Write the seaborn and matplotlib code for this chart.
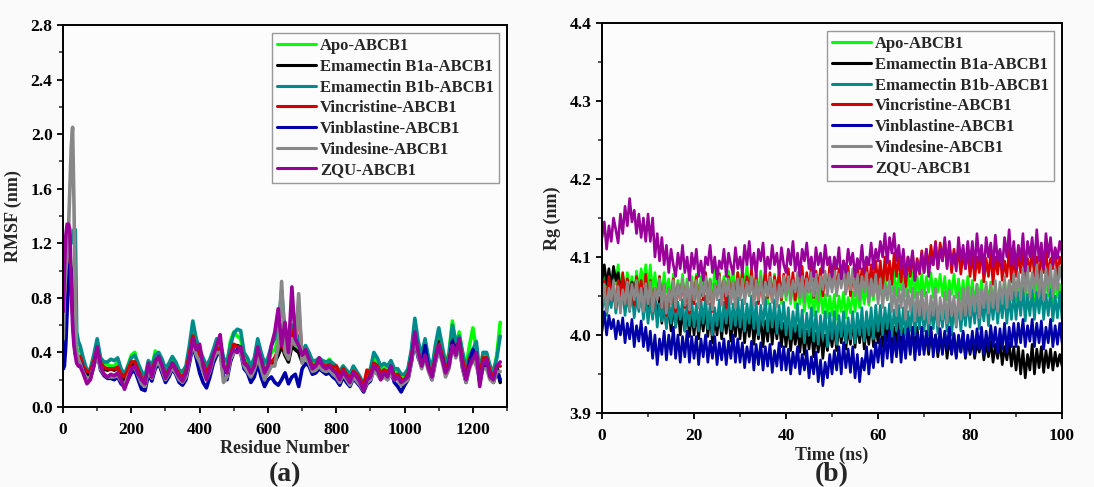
import matplotlib
matplotlib.use("Agg")
import matplotlib.pyplot as plt
from matplotlib.ticker import MultipleLocator, FormatStrFormatter
import seaborn as sns

# ---------------- dados RMSF (residuos) ----------------
residue = [1, 4, 8, 12, 16, 20, 24, 28, 32, 36, 40, 45] + list(range(50, 1290, 10))

apo_rmsf = [0.65, 0.75, 0.90, 1.00, 1.10, 1.15, 1.00, 0.80, 0.60, 0.45, 0.40, 0.42,
            0.42, 0.32, 0.26, 0.27, 0.35, 0.45, 0.34, 0.32, 0.31, 0.30,
            0.30, 0.33, 0.25, 0.20, 0.30, 0.38, 0.40, 0.30, 0.22, 0.20,
            0.33, 0.28, 0.41, 0.38, 0.33, 0.25, 0.30, 0.36, 0.31, 0.25,
            0.24, 0.28, 0.42, 0.58, 0.48, 0.40, 0.33, 0.27, 0.32, 0.40,
            0.47, 0.45, 0.33, 0.30, 0.48, 0.55, 0.52, 0.50, 0.37, 0.33,
            0.27, 0.33, 0.45, 0.36, 0.28, 0.32, 0.40, 0.42, 0.50, 0.60,
            0.45, 0.40, 0.50, 0.48, 0.42, 0.36, 0.42, 0.38, 0.32, 0.33,
            0.35, 0.33, 0.32, 0.35, 0.30, 0.28, 0.25, 0.30, 0.25, 0.22,
            0.28, 0.25, 0.20, 0.15, 0.22, 0.26, 0.36, 0.33, 0.28, 0.30,
            0.28, 0.32, 0.26, 0.26, 0.22, 0.22, 0.27, 0.40, 0.60, 0.45,
            0.35, 0.46, 0.33, 0.26, 0.42, 0.55, 0.42, 0.30, 0.40, 0.63,
            0.45, 0.55, 0.38, 0.30, 0.45, 0.58, 0.42, 0.24, 0.40, 0.38,
            0.30, 0.25, 0.38, 0.62]

b1a_rmsf = [0.55, 0.60, 0.80, 1.00, 1.10, 1.05, 0.90, 0.70, 0.50, 0.40, 0.35, 0.35,
            0.36, 0.28, 0.23, 0.24, 0.32, 0.42, 0.31, 0.28, 0.27, 0.28,
            0.27, 0.29, 0.23, 0.18, 0.25, 0.31, 0.33, 0.27, 0.21, 0.17,
            0.29, 0.25, 0.33, 0.35, 0.30, 0.23, 0.27, 0.32, 0.28, 0.23,
            0.21, 0.25, 0.38, 0.50, 0.42, 0.38, 0.29, 0.21, 0.28, 0.36,
            0.42, 0.42, 0.28, 0.25, 0.38, 0.45, 0.45, 0.44, 0.33, 0.29,
            0.24, 0.29, 0.40, 0.32, 0.24, 0.28, 0.32, 0.33, 0.38, 0.45,
            0.38, 0.33, 0.45, 0.42, 0.40, 0.33, 0.38, 0.34, 0.29, 0.30,
            0.32, 0.30, 0.29, 0.30, 0.27, 0.25, 0.21, 0.27, 0.22, 0.19,
            0.25, 0.22, 0.18, 0.13, 0.20, 0.23, 0.32, 0.30, 0.24, 0.27,
            0.25, 0.29, 0.23, 0.23, 0.19, 0.19, 0.23, 0.36, 0.55, 0.40,
            0.31, 0.40, 0.30, 0.23, 0.37, 0.48, 0.38, 0.26, 0.33, 0.50,
            0.40, 0.50, 0.33, 0.22, 0.35, 0.40, 0.38, 0.20, 0.35, 0.34,
            0.25, 0.21, 0.30, 0.18]

b1b_rmsf = [0.50, 0.70, 0.90, 1.00, 1.10, 1.20, 1.20, 1.25, 1.30, 1.30, 0.55, 0.48,
            0.45, 0.35, 0.27, 0.28, 0.38, 0.50, 0.36, 0.33, 0.33, 0.35,
            0.34, 0.36, 0.28, 0.24, 0.30, 0.36, 0.38, 0.32, 0.26, 0.22,
            0.34, 0.30, 0.38, 0.40, 0.35, 0.28, 0.32, 0.37, 0.33, 0.27,
            0.26, 0.30, 0.45, 0.63, 0.50, 0.42, 0.36, 0.30, 0.35, 0.42,
            0.50, 0.48, 0.36, 0.33, 0.45, 0.54, 0.57, 0.56, 0.40, 0.36,
            0.30, 0.36, 0.50, 0.40, 0.32, 0.36, 0.45, 0.50, 0.60, 0.85,
            0.55, 0.45, 0.60, 0.55, 0.50, 0.40, 0.45, 0.40, 0.34, 0.34,
            0.36, 0.34, 0.33, 0.34, 0.32, 0.30, 0.26, 0.30, 0.27, 0.24,
            0.30, 0.26, 0.22, 0.16, 0.24, 0.28, 0.40, 0.36, 0.30, 0.32,
            0.30, 0.34, 0.28, 0.28, 0.24, 0.24, 0.28, 0.42, 0.65, 0.48,
            0.38, 0.50, 0.36, 0.28, 0.45, 0.58, 0.45, 0.32, 0.38, 0.60,
            0.48, 0.52, 0.40, 0.28, 0.38, 0.42, 0.48, 0.25, 0.40, 0.40,
            0.30, 0.26, 0.36, 0.52]

vincristine_rmsf = [0.60, 0.65, 1.00, 1.20, 1.25, 1.10, 0.90, 0.70, 0.50, 0.40, 0.35, 0.35,
                    0.37, 0.29, 0.26, 0.26, 0.33, 0.42, 0.32, 0.29, 0.28, 0.28,
                    0.28, 0.29, 0.24, 0.22, 0.27, 0.33, 0.33, 0.27, 0.21, 0.18,
                    0.30, 0.26, 0.34, 0.36, 0.30, 0.23, 0.27, 0.32, 0.28, 0.24,
                    0.22, 0.26, 0.38, 0.52, 0.42, 0.38, 0.32, 0.25, 0.30, 0.37,
                    0.43, 0.43, 0.30, 0.26, 0.38, 0.46, 0.44, 0.44, 0.33, 0.30,
                    0.25, 0.30, 0.40, 0.33, 0.26, 0.30, 0.33, 0.36, 0.42, 0.50,
                    0.40, 0.36, 0.50, 0.60, 0.72, 0.36, 0.40, 0.35, 0.30, 0.31,
                    0.33, 0.31, 0.30, 0.31, 0.29, 0.30, 0.23, 0.28, 0.24, 0.20,
                    0.26, 0.24, 0.20, 0.15, 0.27, 0.24, 0.32, 0.30, 0.25, 0.27,
                    0.25, 0.29, 0.23, 0.24, 0.20, 0.20, 0.24, 0.36, 0.52, 0.40,
                    0.32, 0.40, 0.30, 0.24, 0.36, 0.46, 0.38, 0.27, 0.33, 0.48,
                    0.40, 0.48, 0.34, 0.23, 0.35, 0.40, 0.38, 0.22, 0.36, 0.36,
                    0.26, 0.22, 0.30, 0.30]

vinblastine_rmsf = [0.28, 0.30, 0.45, 0.70, 0.90, 1.05, 1.00, 0.80, 0.60, 0.40, 0.35, 0.33,
                    0.33, 0.26, 0.20, 0.21, 0.30, 0.40, 0.27, 0.23, 0.21, 0.21,
                    0.20, 0.22, 0.17, 0.15, 0.20, 0.25, 0.27, 0.20, 0.13, 0.12,
                    0.24, 0.19, 0.28, 0.32, 0.25, 0.18, 0.22, 0.28, 0.24, 0.18,
                    0.16, 0.20, 0.32, 0.45, 0.36, 0.25, 0.18, 0.14, 0.22, 0.32,
                    0.38, 0.40, 0.22, 0.20, 0.33, 0.40, 0.42, 0.40, 0.28, 0.25,
                    0.18, 0.22, 0.32, 0.22, 0.15, 0.20, 0.22, 0.18, 0.16, 0.20,
                    0.25, 0.17, 0.22, 0.24, 0.15, 0.28, 0.32, 0.30, 0.24, 0.25,
                    0.28, 0.26, 0.24, 0.25, 0.22, 0.20, 0.16, 0.22, 0.18, 0.15,
                    0.21, 0.18, 0.15, 0.11, 0.17, 0.19, 0.28, 0.26, 0.21, 0.23,
                    0.20, 0.26, 0.18, 0.15, 0.11, 0.16, 0.20, 0.33, 0.48, 0.36,
                    0.30, 0.45, 0.28, 0.20, 0.33, 0.42, 0.36, 0.25, 0.30, 0.48,
                    0.38, 0.45, 0.28, 0.18, 0.32, 0.42, 0.36, 0.18, 0.30, 0.30,
                    0.22, 0.18, 0.26, 0.20]

vindesine_rmsf = [0.50, 0.80, 1.00, 1.10, 1.30, 1.60, 1.90, 2.05, 1.50, 0.80, 0.40, 0.35,
                  0.32, 0.25, 0.21, 0.22, 0.30, 0.40, 0.28, 0.24, 0.22, 0.22,
                  0.22, 0.23, 0.19, 0.16, 0.22, 0.28, 0.29, 0.23, 0.17, 0.15,
                  0.27, 0.21, 0.30, 0.33, 0.27, 0.20, 0.24, 0.29, 0.25, 0.20,
                  0.18, 0.22, 0.34, 0.47, 0.38, 0.33, 0.26, 0.20, 0.26, 0.35,
                  0.40, 0.40, 0.18, 0.22, 0.35, 0.40, 0.40, 0.40, 0.30, 0.26,
                  0.22, 0.27, 0.36, 0.28, 0.20, 0.25, 0.30, 0.30, 0.45, 0.92,
                  0.40, 0.35, 0.50, 0.45, 0.83, 0.32, 0.37, 0.32, 0.26, 0.27,
                  0.30, 0.27, 0.26, 0.27, 0.24, 0.22, 0.18, 0.24, 0.20, 0.16,
                  0.22, 0.19, 0.16, 0.12, 0.18, 0.20, 0.26, 0.24, 0.20, 0.22,
                  0.20, 0.25, 0.20, 0.20, 0.16, 0.18, 0.20, 0.33, 0.50, 0.37,
                  0.28, 0.36, 0.26, 0.20, 0.32, 0.42, 0.33, 0.22, 0.28, 0.45,
                  0.36, 0.45, 0.28, 0.18, 0.28, 0.35, 0.30, 0.22, 0.28, 0.28,
                  0.20, 0.18, 0.26, 0.26]

zqu_rmsf = [0.70, 1.00, 1.25, 1.34, 1.34, 1.30, 0.90, 0.60, 0.45, 0.38, 0.32, 0.30,
            0.30, 0.24, 0.17, 0.20, 0.30, 0.44, 0.30, 0.24, 0.22, 0.24,
            0.23, 0.25, 0.20, 0.13, 0.20, 0.28, 0.30, 0.24, 0.20, 0.17,
            0.32, 0.22, 0.33, 0.37, 0.30, 0.21, 0.26, 0.32, 0.27, 0.22,
            0.19, 0.25, 0.35, 0.50, 0.42, 0.46, 0.30, 0.20, 0.28, 0.38,
            0.45, 0.53, 0.30, 0.25, 0.38, 0.42, 0.40, 0.44, 0.32, 0.30,
            0.25, 0.30, 0.44, 0.35, 0.25, 0.30, 0.45, 0.55, 0.72, 0.45,
            0.62, 0.40, 0.88, 0.50, 0.45, 0.38, 0.42, 0.35, 0.28, 0.30,
            0.36, 0.30, 0.28, 0.30, 0.27, 0.25, 0.20, 0.26, 0.22, 0.18,
            0.25, 0.22, 0.18, 0.12, 0.20, 0.22, 0.30, 0.28, 0.20, 0.25,
            0.22, 0.30, 0.20, 0.22, 0.18, 0.20, 0.22, 0.35, 0.55, 0.40,
            0.30, 0.38, 0.28, 0.22, 0.35, 0.45, 0.35, 0.25, 0.30, 0.45,
            0.38, 0.50, 0.30, 0.20, 0.30, 0.35, 0.40, 0.15, 0.32, 0.35,
            0.22, 0.20, 0.30, 0.33]

# ---------------- dados Rg (tempo, a cada 0.5 ns) ----------------
time_ns = [i * 0.5 for i in range(201)]

apo_rg = [4.055, 4.075, 4.05, 4.08, 4.06, 4.085, 4.065, 4.09, 4.06, 4.078, 4.055, 4.08, 4.06, 4.075, 4.05, 4.082, 4.058, 4.085, 4.065, 4.09,
          4.06, 4.09, 4.055, 4.08, 4.05, 4.075, 4.045, 4.08, 4.055, 4.072, 4.045, 4.078, 4.04, 4.07, 4.05, 4.078, 4.045, 4.072, 4.04, 4.075,
          4.05, 4.078, 4.045, 4.075, 4.055, 4.08, 4.045, 4.072, 4.05, 4.085, 4.055, 4.08, 4.045, 4.075, 4.05, 4.082, 4.058, 4.085, 4.05, 4.08,
          4.055, 4.085, 4.06, 4.09, 4.05, 4.08, 4.045, 4.075, 4.055, 4.082, 4.048, 4.078, 4.04, 4.072, 4.05, 4.078, 4.045, 4.07, 4.04, 4.075,
          4.045, 4.07, 4.04, 4.068, 4.035, 4.065, 4.04, 4.062, 4.03, 4.06, 4.035, 4.058, 4.025, 4.055, 4.03, 4.06, 4.028, 4.052, 4.022, 4.05,
          4.025, 4.052, 4.02, 4.05, 4.03, 4.055, 4.022, 4.048, 4.028, 4.055, 4.03, 4.058, 4.035, 4.06, 4.04, 4.065, 4.038, 4.062, 4.045, 4.07,
          4.045, 4.075, 4.05, 4.08, 4.045, 4.072, 4.055, 4.082, 4.05, 4.078, 4.058, 4.085, 4.05, 4.078, 4.055, 4.08, 4.048, 4.075, 4.052, 4.078,
          4.05, 4.075, 4.055, 4.08, 4.048, 4.072, 4.055, 4.078, 4.05, 4.075, 4.045, 4.07, 4.052, 4.078, 4.048, 4.072, 4.045, 4.07, 4.042, 4.075,
          4.045, 4.07, 4.04, 4.065, 4.048, 4.07, 4.038, 4.062, 4.045, 4.068, 4.04, 4.065, 4.035, 4.06, 4.045, 4.07, 4.04, 4.068, 4.048, 4.072,
          4.045, 4.072, 4.05, 4.075, 4.042, 4.068, 4.05, 4.075, 4.045, 4.07, 4.055, 4.075, 4.045, 4.07, 4.05, 4.072, 4.042, 4.068, 4.048, 4.065,
          4.05]

b1a_rg = [4.07, 4.09, 4.065, 4.085, 4.06, 4.088, 4.07, 4.08, 4.055, 4.075, 4.05, 4.07, 4.045, 4.068, 4.055, 4.072, 4.042, 4.065, 4.04, 4.06,
          4.03, 4.058, 4.025, 4.05, 4.02, 4.048, 4.015, 4.045, 4.01, 4.04, 4.005, 4.038, 4.01, 4.035, 4.0, 4.032, 4.005, 4.035, 3.998, 4.03,
          4.0, 4.032, 3.995, 4.028, 4.005, 4.035, 3.998, 4.03, 3.99, 4.025, 4.0, 4.03, 3.995, 4.028, 4.002, 4.032, 3.992, 4.025, 3.998, 4.03,
          3.995, 4.028, 3.99, 4.022, 3.998, 4.03, 3.988, 4.02, 3.995, 4.025, 3.985, 4.018, 3.992, 4.025, 3.988, 4.02, 3.995, 4.022, 3.985, 4.015,
          3.985, 4.015, 3.98, 4.01, 3.988, 4.012, 3.978, 4.008, 3.975, 4.005, 3.982, 4.01, 3.972, 4.002, 3.978, 4.005, 3.97, 4.0, 3.98, 4.008,
          3.985, 4.012, 3.98, 4.015, 3.99, 4.018, 3.982, 4.01, 3.988, 4.02, 3.984, 4.015, 3.99, 4.018, 3.982, 4.012, 3.988, 4.02, 3.985, 4.015,
          3.99, 4.018, 3.985, 4.015, 3.992, 4.02, 3.982, 4.01, 3.988, 4.015, 3.98, 4.008, 3.985, 4.012, 3.978, 4.005, 3.982, 4.01, 3.975, 4.005,
          3.98, 4.0, 3.975, 4.005, 3.982, 4.0, 3.972, 3.998, 3.978, 4.002, 3.97, 3.995, 3.976, 4.0, 3.972, 3.998, 3.978, 4.002, 3.97, 3.996,
          3.975, 3.995, 3.97, 3.99, 3.978, 3.995, 3.968, 3.99, 3.972, 3.992, 3.965, 3.988, 3.97, 3.992, 3.962, 3.985, 3.968, 3.99, 3.96, 3.985,
          3.955, 3.985, 3.95, 3.98, 3.945, 3.975, 3.955, 3.988, 3.95, 3.982, 3.958, 3.985, 3.952, 3.98, 3.958, 3.982, 3.955, 3.978, 3.96, 3.975,
          3.96]

b1b_rg = [4.03, 4.055, 4.025, 4.05, 4.035, 4.06, 4.028, 4.052, 4.035, 4.058, 4.025, 4.05, 4.03, 4.055, 4.022, 4.048, 4.03, 4.055, 4.02, 4.05,
          4.015, 4.045, 4.02, 4.05, 4.01, 4.04, 4.018, 4.045, 4.008, 4.04, 4.015, 4.048, 4.01, 4.042, 4.02, 4.045, 4.005, 4.038, 4.012, 4.045,
          4.01, 4.04, 4.005, 4.045, 4.015, 4.05, 4.008, 4.04, 4.0, 4.035, 4.012, 4.045, 4.005, 4.042, 4.015, 4.05, 4.008, 4.04, 4.012, 4.048,
          4.01, 4.045, 4.005, 4.04, 4.015, 4.05, 4.008, 4.042, 4.0, 4.038, 4.012, 4.048, 4.005, 4.04, 4.01, 4.045, 4.002, 4.038, 4.008, 4.042,
          4.0, 4.035, 3.995, 4.03, 4.005, 4.04, 3.998, 4.032, 3.99, 4.028, 4.0, 4.035, 3.992, 4.03, 3.988, 4.025, 3.995, 4.03, 3.985, 4.028,
          3.995, 4.03, 3.988, 4.025, 3.998, 4.03, 3.99, 4.022, 3.995, 4.03, 3.99, 4.028, 4.0, 4.035, 3.992, 4.03, 4.0, 4.035, 3.995, 4.038,
          4.005, 4.038, 4.0, 4.035, 4.008, 4.04, 3.998, 4.032, 4.005, 4.038, 4.0, 4.035, 3.995, 4.03, 4.005, 4.04, 4.0, 4.035, 4.008, 4.038,
          4.005, 4.035, 4.0, 4.038, 4.008, 4.04, 4.002, 4.035, 4.01, 4.04, 4.005, 4.038, 4.0, 4.035, 4.01, 4.042, 4.005, 4.04, 4.012, 4.045,
          4.01, 4.045, 4.015, 4.05, 4.008, 4.042, 4.018, 4.05, 4.012, 4.048, 4.02, 4.052, 4.015, 4.048, 4.022, 4.055, 4.015, 4.05, 4.02, 4.055,
          4.02, 4.055, 4.025, 4.06, 4.018, 4.052, 4.025, 4.058, 4.02, 4.055, 4.028, 4.06, 4.02, 4.052, 4.025, 4.058, 4.018, 4.05, 4.022, 4.055,
          4.02]

vincristine_rg = [4.05, 4.07, 4.04, 4.075, 4.045, 4.065, 4.035, 4.07, 4.05, 4.08, 4.04, 4.072, 4.045, 4.065, 4.038, 4.075, 4.05, 4.07, 4.04, 4.078,
                  4.04, 4.07, 4.03, 4.06, 4.045, 4.075, 4.035, 4.065, 4.025, 4.06, 4.04, 4.072, 4.03, 4.065, 4.045, 4.07, 4.035, 4.06, 4.028, 4.068,
                  4.04, 4.075, 4.035, 4.065, 4.045, 4.08, 4.04, 4.07, 4.03, 4.065, 4.05, 4.078, 4.04, 4.07, 4.035, 4.075, 4.045, 4.068, 4.04, 4.08,
                  4.05, 4.08, 4.045, 4.075, 4.055, 4.085, 4.045, 4.078, 4.04, 4.07, 4.055, 4.085, 4.048, 4.08, 4.042, 4.075, 4.055, 4.082, 4.045, 4.078,
                  4.055, 4.085, 4.05, 4.08, 4.045, 4.075, 4.06, 4.088, 4.05, 4.08, 4.055, 4.09, 4.048, 4.082, 4.06, 4.085, 4.05, 4.078, 4.055, 4.09,
                  4.06, 4.09, 4.055, 4.085, 4.065, 4.095, 4.055, 4.088, 4.05, 4.08, 4.065, 4.092, 4.058, 4.085, 4.062, 4.095, 4.055, 4.09, 4.065, 4.095,
                  4.065, 4.095, 4.06, 4.1, 4.07, 4.095, 4.065, 4.105, 4.075, 4.1, 4.068, 4.098, 4.062, 4.1, 4.075, 4.105, 4.07, 4.098, 4.078, 4.108,
                  4.08, 4.11, 4.085, 4.115, 4.09, 4.12, 4.085, 4.118, 4.095, 4.12, 4.088, 4.115, 4.08, 4.11, 4.09, 4.108, 4.078, 4.105, 4.085, 4.11,
                  4.075, 4.105, 4.07, 4.1, 4.08, 4.11, 4.068, 4.098, 4.075, 4.105, 4.065, 4.1, 4.078, 4.108, 4.07, 4.095, 4.075, 4.11, 4.068, 4.1,
                  4.075, 4.105, 4.08, 4.11, 4.072, 4.098, 4.082, 4.108, 4.075, 4.1, 4.07, 4.105, 4.08, 4.11, 4.075, 4.098, 4.085, 4.11, 4.075, 4.1,
                  4.09]

vinblastine_rg = [4.005, 4.03, 4.0, 4.025, 4.008, 4.02, 3.995, 4.018, 4.0, 4.022, 3.99, 4.015, 3.995, 4.02, 3.985, 4.012, 3.992, 4.018, 3.985, 4.01,
                  3.98, 4.005, 3.97, 4.0, 3.962, 3.995, 3.975, 4.005, 3.968, 4.0, 3.975, 4.01, 3.97, 4.0, 3.965, 3.998, 3.972, 4.005, 3.965, 3.998,
                  3.97, 3.998, 3.962, 3.995, 3.972, 4.0, 3.965, 3.992, 3.97, 3.998, 3.962, 3.99, 3.968, 3.995, 3.962, 3.992, 3.97, 4.0, 3.965, 3.995,
                  3.965, 3.99, 3.958, 3.985, 3.965, 3.992, 3.955, 3.988, 3.962, 3.99, 3.955, 3.985, 3.96, 3.988, 3.952, 3.98, 3.96, 3.99, 3.955, 3.985,
                  3.955, 3.982, 3.95, 3.978, 3.958, 3.985, 3.95, 3.975, 3.955, 3.98, 3.945, 3.972, 3.95, 3.978, 3.94, 3.968, 3.935, 3.965, 3.945, 3.975,
                  3.95, 3.98, 3.955, 3.985, 3.95, 3.99, 3.958, 3.982, 3.952, 3.985, 3.945, 3.975, 3.94, 3.97, 3.955, 3.985, 3.95, 3.98, 3.958, 3.99,
                  3.965, 3.995, 3.96, 4.0, 3.97, 4.005, 3.965, 3.998, 3.972, 4.005, 3.965, 4.0, 3.97, 4.008, 3.975, 4.01, 3.968, 4.002, 3.975, 4.01,
                  3.975, 4.005, 3.98, 4.01, 3.972, 4.0, 3.978, 4.008, 3.975, 4.005, 3.982, 4.01, 3.975, 4.002, 3.97, 4.0, 3.978, 4.005, 3.972, 4.0,
                  3.978, 4.005, 3.975, 4.008, 3.982, 4.01, 3.975, 4.005, 3.98, 4.012, 3.985, 4.01, 3.978, 4.008, 3.982, 4.015, 3.978, 4.01, 3.985, 4.015,
                  3.985, 4.015, 3.99, 4.02, 3.985, 4.012, 3.992, 4.02, 3.985, 4.015, 3.99, 4.018, 3.982, 4.01, 3.99, 4.02, 3.985, 4.012, 3.988, 4.015,
                  3.99]

vindesine_rg = [4.04, 4.065, 4.03, 4.06, 4.045, 4.07, 4.035, 4.062, 4.028, 4.058, 4.04, 4.068, 4.032, 4.065, 4.045, 4.07, 4.035, 4.06, 4.03, 4.066,
                4.04, 4.068, 4.03, 4.06, 4.045, 4.072, 4.035, 4.065, 4.028, 4.06, 4.04, 4.07, 4.035, 4.066, 4.045, 4.072, 4.038, 4.068, 4.032, 4.07,
                4.045, 4.07, 4.035, 4.068, 4.05, 4.075, 4.04, 4.07, 4.032, 4.065, 4.045, 4.075, 4.038, 4.07, 4.05, 4.072, 4.04, 4.068, 4.035, 4.072,
                4.045, 4.072, 4.04, 4.068, 4.05, 4.075, 4.038, 4.07, 4.045, 4.075, 4.04, 4.068, 4.05, 4.074, 4.042, 4.07, 4.036, 4.065, 4.048, 4.075,
                4.05, 4.075, 4.045, 4.07, 4.055, 4.08, 4.048, 4.075, 4.042, 4.072, 4.055, 4.08, 4.05, 4.078, 4.045, 4.075, 4.058, 4.082, 4.05, 4.078,
                4.055, 4.082, 4.05, 4.078, 4.06, 4.085, 4.052, 4.08, 4.058, 4.085, 4.05, 4.078, 4.045, 4.075, 4.055, 4.08, 4.042, 4.072, 4.05, 4.078,
                4.04, 4.072, 4.035, 4.065, 4.045, 4.07, 4.03, 4.062, 4.025, 4.06, 4.035, 4.065, 4.02, 4.058, 4.03, 4.06, 4.018, 4.055, 4.025, 4.058,
                4.02, 4.055, 4.015, 4.05, 4.025, 4.06, 4.012, 4.048, 4.02, 4.055, 4.015, 4.058, 4.025, 4.05, 4.012, 4.055, 4.02, 4.06, 4.025, 4.062,
                4.025, 4.06, 4.03, 4.065, 4.022, 4.058, 4.035, 4.068, 4.028, 4.065, 4.035, 4.07, 4.03, 4.068, 4.04, 4.075, 4.035, 4.07, 4.045, 4.078,
                4.05, 4.08, 4.045, 4.085, 4.055, 4.088, 4.048, 4.08, 4.055, 4.09, 4.05, 4.082, 4.045, 4.085, 4.055, 4.09, 4.05, 4.085, 4.058, 4.088,
                4.07]

zqu_rg = [4.125, 4.145, 4.11, 4.14, 4.12, 4.15, 4.135, 4.118, 4.155, 4.13, 4.165, 4.14, 4.175, 4.145, 4.16, 4.13, 4.155, 4.125, 4.15, 4.12,
          4.155, 4.12, 4.15, 4.1, 4.13, 4.095, 4.125, 4.09, 4.115, 4.08, 4.11, 4.09, 4.075, 4.105, 4.085, 4.115, 4.08, 4.1, 4.07, 4.105,
          4.085, 4.11, 4.075, 4.095, 4.07, 4.1, 4.09, 4.115, 4.08, 4.1, 4.072, 4.095, 4.085, 4.11, 4.075, 4.105, 4.09, 4.078, 4.112, 4.085,
          4.1, 4.08, 4.115, 4.09, 4.12, 4.085, 4.105, 4.075, 4.11, 4.095, 4.118, 4.08, 4.1, 4.085, 4.115, 4.09, 4.105, 4.078, 4.112, 4.09,
          4.08, 4.11, 4.09, 4.12, 4.082, 4.105, 4.075, 4.11, 4.095, 4.118, 4.085, 4.1, 4.075, 4.112, 4.09, 4.105, 4.08, 4.115, 4.09, 4.1,
          4.075, 4.1, 4.085, 4.112, 4.072, 4.095, 4.08, 4.11, 4.09, 4.105, 4.075, 4.098, 4.085, 4.115, 4.08, 4.1, 4.09, 4.118, 4.085, 4.11,
          4.095, 4.12, 4.1, 4.13, 4.092, 4.125, 4.105, 4.13, 4.095, 4.115, 4.085, 4.11, 4.075, 4.1, 4.085, 4.108, 4.07, 4.095, 4.08, 4.105,
          4.08, 4.11, 4.075, 4.1, 4.09, 4.118, 4.085, 4.11, 4.095, 4.125, 4.085, 4.12, 4.09, 4.105, 4.082, 4.125, 4.095, 4.115, 4.085, 4.12,
          4.09, 4.12, 4.085, 4.13, 4.095, 4.115, 4.08, 4.125, 4.1, 4.118, 4.088, 4.128, 4.095, 4.11, 4.085, 4.125, 4.1, 4.135, 4.09, 4.12,
          4.085, 4.115, 4.095, 4.13, 4.082, 4.12, 4.1, 4.125, 4.09, 4.135, 4.095, 4.118, 4.085, 4.13, 4.1, 4.125, 4.09, 4.112, 4.098, 4.12,
          4.105]

labels = ['Apo-ABCB1', 'Emamectin B1a-ABCB1', 'Emamectin B1b-ABCB1',
          'Vincristine-ABCB1', 'Vinblastine-ABCB1', 'Vindesine-ABCB1', 'ZQU-ABCB1']
cores = ['#00ff00', '#000000', '#008b8b', '#d40000', '#0000a8', '#888888', '#990099']

rmsf_series = [apo_rmsf, b1a_rmsf, b1b_rmsf, vincristine_rmsf,
               vinblastine_rmsf, vindesine_rmsf, zqu_rmsf]
rg_series = [apo_rg, b1a_rg, b1b_rg, vincristine_rg,
             vinblastine_rg, vindesine_rg, zqu_rg]

sns.set_theme(style='ticks')
plt.rcParams['font.family'] = ['Liberation Serif', 'DejaVu Serif']
plt.rcParams['font.weight'] = 'bold'
plt.rcParams['axes.labelweight'] = 'bold'

fig = plt.figure(figsize=(10.94, 4.87), dpi=100, facecolor='#fafafa')
ax1 = fig.add_axes([0.0576, 0.1643, 0.4059, 0.7844])
ax2 = fig.add_axes([0.5503, 0.152, 0.4205, 0.8008])

# Grafico RMSF
for serie, cor, nome in zip(rmsf_series, cores, labels):
    sns.lineplot(x=residue, y=serie, color=cor, linewidth=2.6, label=nome, ax=ax1)

# Grafico Rg
for serie, cor, nome in zip(rg_series, cores, labels):
    sns.lineplot(x=time_ns, y=serie, color=cor, linewidth=1.9, label=nome, ax=ax2)

ax1.set_xlim(0, 1300)
ax1.set_ylim(0, 2.8)
ax1.xaxis.set_major_locator(MultipleLocator(200))
ax1.xaxis.set_minor_locator(MultipleLocator(100))
ax1.yaxis.set_major_locator(MultipleLocator(0.4))
ax1.yaxis.set_minor_locator(MultipleLocator(0.2))
ax1.yaxis.set_major_formatter(FormatStrFormatter('%.1f'))
ax1.set_xlabel('Residue Number', fontsize=13, fontweight='bold', labelpad=2)
ax1.set_ylabel('RMSF (nm)', fontsize=13, fontweight='bold', labelpad=6)

ax2.set_xlim(0, 100)
ax2.set_ylim(3.9, 4.4)
ax2.xaxis.set_major_locator(MultipleLocator(20))
ax2.xaxis.set_minor_locator(MultipleLocator(10))
ax2.yaxis.set_major_locator(MultipleLocator(0.1))
ax2.yaxis.set_minor_locator(MultipleLocator(0.05))
ax2.yaxis.set_major_formatter(FormatStrFormatter('%.1f'))
ax2.set_xlabel('Time (ns)', fontsize=13, fontweight='bold', labelpad=2)
ax2.set_ylabel('Rg (nm)', fontsize=13, fontweight='bold', labelpad=6)

for ax in [ax1, ax2]:
    ax.set_facecolor('#fcfcfc')
    for s in ax.spines.values():
        s.set_visible(True)
        s.set_linewidth(1.4)
        s.set_color('black')
    ax.tick_params(which='major', direction='out', length=4.5, width=1.3,
                   labelsize=12.5, colors='black')
    ax.tick_params(which='minor', direction='out', length=3, width=1.1)
    ax.tick_params(axis='x', which='major', pad=6)
    ax.tick_params(axis='y', which='major', pad=3)
    leg = ax.legend(loc='upper right', prop={'weight': 'bold', 'size': 12},
                    frameon=True, fancybox=False,
                    handlelength=2.3, handletextpad=0.25, labelspacing=0.28,
                    borderpad=0.3, borderaxespad=0.5)
    leg.get_frame().set_edgecolor('#999999')
    leg.get_frame().set_linewidth(1.0)
    leg.get_frame().set_facecolor('#fcfcfc')
    leg.get_frame().set_alpha(1)
    for lh in leg.get_lines():
        lh.set_linewidth(2.2)

fig.text(0.2606, 0.0, '(a)', fontsize=20, fontweight='bold', ha='center', va='bottom')
fig.text(0.7605, 0.0, '(b)', fontsize=20, fontweight='bold', ha='center', va='bottom')

# rotulos dos ticks em negrito (depois de desenhar)
fig.canvas.draw()
for ax in [ax1, ax2]:
    for t in ax.get_xticklabels() + ax.get_yticklabels():
        t.set_fontweight('bold')
        t.set_fontsize(12.5)

fig.savefig('out.png', dpi=100, facecolor=fig.get_facecolor())
